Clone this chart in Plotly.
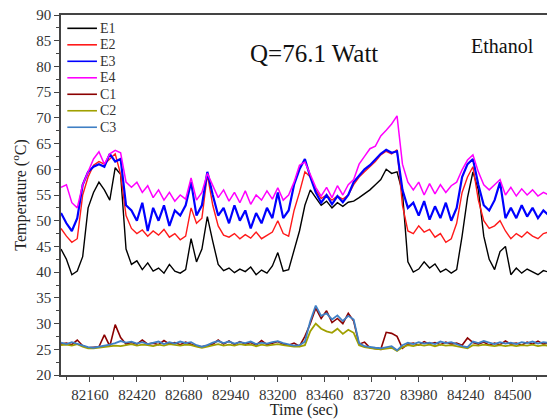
import plotly.graph_objects as go

# time axis (sec), sampled every 30 s
times = list(range(82000, 84701, 30))

E1 = [44.5, 42.5, 39.5, 40.2, 43, 52.5, 55.5, 57.5, 56, 54, 60.3, 59, 44.5, 41.5, 42.2, 40.5, 41.8, 40.2, 40.8, 39.8,
      41.5, 40.2, 39.8, 40.5, 46.5, 42, 44.5, 50.8, 46, 41.5, 40.3, 40.8, 39.9, 40.6, 40.1, 41, 39.5, 40.4, 39.8, 41.2,
      43.8, 40.2, 40.5, 44, 48, 53, 56, 54.5, 53, 53.8, 52.5, 53.5, 52.8, 53.6, 53.8, 54.5, 55.2, 56, 57, 58,
      60, 59.2, 59.5, 55.5, 42, 40, 40.6, 42, 40.8, 41.6, 40, 40.6, 39.8, 40.5, 47, 54.5, 59.5, 56, 47, 42.5,
      40.5, 44, 45, 39.5, 40.8, 39.8, 40.6, 40, 39.5, 40.3, 40]
E2 = [48.5, 47, 45.8, 46.5, 55, 58.5, 60.8, 61.5, 61, 62, 63, 59, 51, 48.5, 47.5, 48.2, 47, 48, 47.2, 48.3,
      46.8, 47.5, 46.3, 47, 52.5, 49.5, 50.5, 59, 53, 49, 47.2, 46.8, 47.5, 46.5, 47.3, 46.6, 47.8, 46.5, 47.2, 47.8,
      50, 47.5, 47, 52, 55.5, 59.5, 58.5, 56, 54.3, 55, 54, 54.8, 54.2, 55, 57, 58.5, 59.5, 60.5, 61.5, 62.8,
      63.5, 63, 63.8, 53, 48, 47.5, 49, 47.8, 48.3, 46.8, 47.5, 45.8, 46.5, 49.5, 55.5, 58.5, 60.5, 54, 50, 48.5,
      49, 50, 48, 46.5, 47.5, 46.8, 47.8, 47, 46.5, 47.5, 47.8]
E3 = [51.5, 49.5, 48, 50.5, 57, 59.5, 60.5, 61, 60.5, 63, 61.5, 62, 53, 52, 50, 53.5, 48, 52.5, 50, 53,
      49, 52, 51, 53, 57.5, 51, 53, 59.5, 55, 51, 52.5, 49.5, 53, 50, 52, 48.5, 51.5, 49.5, 52.5, 50.5,
      55.5, 50.5, 52, 57, 60, 62, 58.5, 55.5, 53.5, 55, 53.2, 54.8, 53.6, 55, 57.5, 58.8, 60, 60.8, 62, 63,
      63.8, 63.2, 63.5, 56, 52.5, 53.5, 51, 53.8, 50.2, 52.8, 50.5, 53.5, 50, 52.5, 58.5, 61, 62, 57, 53, 52,
      54, 57.5, 50.5, 52.5, 50.5, 53, 50.8, 52.5, 50.5, 52, 51]
E4 = [56.5, 57, 53.5, 52.5, 57, 59.5, 62, 63.4, 61, 63, 63.7, 63.2, 57.5, 56.5, 57.5, 55.5, 56.8, 54.5, 56, 54,
      55.5, 53.8, 55, 54.2, 58.3, 54, 55.5, 59.2, 57, 54.5, 56, 53.8, 55.5, 53.5, 55.8, 53.2, 55, 54, 55.8, 54.2,
      56.4, 54, 55, 57.5, 60.8, 61.4, 59, 56.5, 54.8, 56.5, 54.5, 56.8, 55, 57, 58, 61, 62.5, 64, 64.5, 66.5,
      67.6, 68.8, 70.4, 61, 57.5, 56, 57.5, 55, 57.2, 55.2, 57, 55.5, 56.8, 57.5, 59.9, 61.8, 62.8, 59.5, 57, 56,
      57, 58, 55, 56.5, 54.8, 56.2, 55, 56, 54.8, 55.5, 55]
C1 = [26, 26.2, 25.9, 26.8, 25.7, 25.3, 25.4, 25.5, 27.8, 25.6, 29.8, 27.3, 26, 26.3, 26, 26.8, 26, 26.2, 25.9, 26.7,
      26, 26.3, 25.9, 26.4, 26, 25.6, 25.5, 25.7, 26, 26.8, 26, 26.6, 25.9, 26.5, 26, 26.3, 25.8, 26.7, 25.9, 26.2,
      26.5, 26, 25.8, 26.2, 25.6, 27.5, 30, 33, 31, 32.5, 30.2, 31, 30, 32, 30.5, 26, 26.4, 25.3, 25.2, 25,
      28.3, 28.1, 27.5, 25.2, 26, 26.2, 25.8, 26.5, 26, 26.3, 25.9, 26.4, 26, 26.2, 25.8, 27.2, 26.3, 26, 26.4, 25.8,
      26.2, 25.9, 26.6, 26, 26.2, 25.8, 26.4, 26, 26.6, 26, 26.3]
C2 = [25.8, 25.9, 25.7, 26, 25.5, 25.2, 25.2, 25.3, 25.4, 25.5, 25.7, 25.6, 25.8, 26, 25.7, 25.9, 25.8, 25.6, 25.9, 25.7,
      26, 25.8, 25.7, 25.9, 25.8, 25.5, 25.3, 25.5, 25.8, 26, 25.7, 25.9, 25.7, 26, 25.8, 25.9, 25.6, 25.9, 25.7, 25.8,
      26, 25.8, 25.6, 25.5, 25.5, 25.8, 28.5, 30, 29, 28.5, 28.2, 29, 28, 28.8, 28.2, 25.8, 25.4, 25.2, 25.1, 25,
      25.2, 25.3, 24.7, 25.4, 25.8, 25.6, 25.9, 25.7, 25.9, 25.6, 25.9, 25.7, 25.8, 25.6, 25.3, 25.2, 25.8, 25.7, 25.9, 25.7,
      25.6, 25.8, 25.6, 25.8, 25.6, 25.8, 25.7, 25.9, 25.6, 25.8, 25.7]
C3 = [26.3, 26, 26.4, 26.1, 25.8, 25.4, 25.3, 25.5, 25.6, 25.9, 26.2, 26.6, 26.3, 26.5, 26.1, 26.4, 26, 26.3, 26.5, 26,
      26.4, 26.1, 26.5, 26.2, 26.4, 25.8, 25.5, 25.8, 26.3, 26.6, 26.2, 26.5, 26.1, 26.4, 26.2, 26.5, 26, 26.3, 26.1, 26.4,
      26.6, 26.2, 26, 25.7, 25.8, 26.5, 30.5, 33.5, 31.5, 32, 30.8, 31.6, 30.5, 31.5, 30.8, 26.2, 25.6, 25.4, 25.3, 25.2,
      25.4, 25.6, 24.8, 25.8, 26.3, 26, 26.4, 26.1, 26.3, 26, 26.5, 26.2, 26.4, 26, 25.6, 25.4, 26.5, 26.2, 26.6, 26.3,
      26, 26.4, 26.1, 26.3, 26, 26.4, 26.2, 26.5, 26.1, 26.4, 26.2]

names = ["E1", "E2", "E3", "E4", "C1", "C2", "C3"]
values = [E1, E2, E3, E4, C1, C2, C3]
colors = ["#000000", "#ff1a1a", "#0000ff", "#ff00ff", "#8b0000", "#a0a000", "#3f7fc4"]
widths = [1.4, 1.4, 2.2, 1.5, 1.6, 1.8, 1.8]

x_ticks = [82160, 82420, 82680, 82940, 83200, 83460, 83720, 83980, 84240, 84500]
y_ticks = [20, 25, 30, 35, 40, 45, 50, 55, 60, 65, 70, 75, 80, 85, 90]

font_family = "Liberation Serif"
axis_col = "#444444"

fig = go.Figure()
for name, vals, col, w in zip(names, values, colors, widths):
    fig.add_trace(go.Scatter(x=times, y=vals, mode="lines", name=name,
                             line=dict(color=col, width=w), showlegend=False))

# hand-drawn legend box (top-left) in paper coordinates
shapes = []
annots = []
leg_top = 0.963
leg_step = 0.0458
for k, (name, col) in enumerate(zip(names, colors)):
    yy = leg_top - k * leg_step
    shapes.append(dict(type="line", xref="paper", yref="paper", x0=0.013, x1=0.074, y0=yy, y1=yy,
                       line=dict(color=col, width=1.6)))
    annots.append(dict(text=name, x=0.077, y=yy, xref="paper", yref="paper", xanchor="left",
                       yanchor="middle", showarrow=False,
                       font=dict(size=14, family=font_family, color="#333333")))

annots.append(dict(text="Q=76.1 Watt", x=0.52, y=0.935, xref="paper", yref="paper",
                   showarrow=False, font=dict(size=25, family=font_family, color="#111111")))
annots.append(dict(text="Ethanol", x=0.978, y=0.95, xref="paper", yref="paper", xanchor="right",
                   showarrow=False, font=dict(size=20, family=font_family, color="#111111")))

fig.update_layout(
    width=547, height=419,
    margin=dict(l=61, r=0, t=15, b=44),
    paper_bgcolor="white", plot_bgcolor="white",
    font=dict(family=font_family, size=13, color="#333333"),
    showlegend=False,
    shapes=shapes,
    annotations=annots,
)
fig.update_xaxes(range=[82000, 84690], tickvals=x_ticks, ticktext=[str(v) for v in x_ticks],
                 showgrid=False, zeroline=False, showline=True, linecolor=axis_col, linewidth=1.5,
                 mirror=True, ticks="outside", ticklen=5, tickcolor=axis_col, tickwidth=1.2,
                 minor=dict(tick0=82030, dtick=130, ticks="outside", ticklen=3, tickcolor=axis_col),
                 tickfont=dict(size=15, family=font_family, color="#333333"),
                 title=dict(text="Time (sec)", font=dict(size=16, family=font_family, color="#222222"),
                            standoff=2))
fig.update_yaxes(range=[20, 90], tickvals=y_ticks, showgrid=False, zeroline=False,
                 showline=True, linecolor=axis_col, linewidth=1.5,
                 ticks="outside", ticklen=5, tickcolor=axis_col, tickwidth=1.2,
                 minor=dict(dtick=2.5, ticks="outside", ticklen=3, tickcolor=axis_col),
                 tickfont=dict(size=15, family=font_family, color="#333333"),
                 title=dict(text="Temperature (<sup>o</sup>C)",
                            font=dict(size=16, family=font_family, color="#222222"), standoff=6))

fig.write_html("out.html")
